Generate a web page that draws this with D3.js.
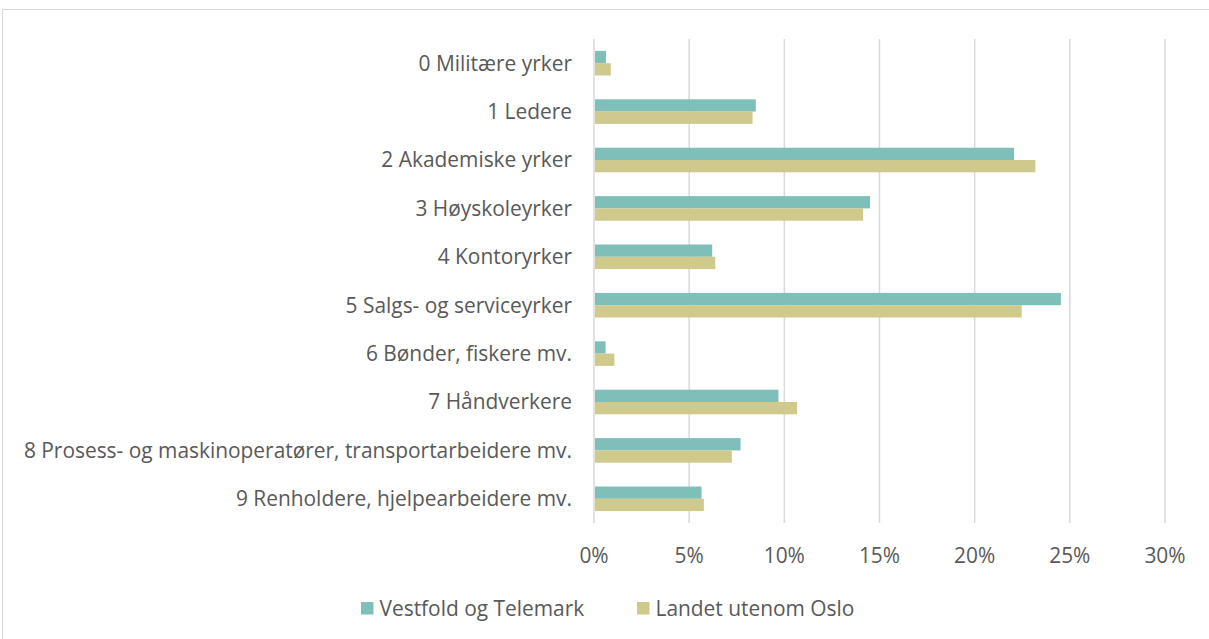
<!DOCTYPE html>
<html lang="no">
<head>
<meta charset="UTF-8">
<title>Yrker</title>
<script src="https://d3js.org/d3.v7.min.js"></script>
<style>
  body { margin: 0; background: #fff; font-family: "Open Sans", "Liberation Sans", sans-serif; }
  text { fill: #595959; }
</style>
</head>
<body>
<div id="chart"></div>
<script>
// data (percent)
const categories = [
  "0 Militære yrker",
  "1 Ledere",
  "2 Akademiske yrker",
  "3 Høyskoleyrker",
  "4 Kontoryrker",
  "5 Salgs- og serviceyrker",
  "6 Bønder, fiskere mv.",
  "7 Håndverkere",
  "8 Prosess- og maskinoperatører, transportarbeidere mv.",
  "9 Renholdere, hjelpearbeidere mv."
];
const seriesNames = ["Vestfold og Telemark", "Landet utenom Oslo"];
const vestfold = [0.63, 8.5, 22.07, 14.5, 6.21, 24.53, 0.61, 9.69, 7.7, 5.65];
const landet   = [0.88, 8.33, 23.19, 14.14, 6.37, 22.47, 1.07, 10.67, 7.24, 5.77];
const xTicks = [0, 5, 10, 15, 20, 25, 30];
const colors = ["#7fbfb9", "#cfc98c"];

const width = 1209, height = 639;
const margin = {left: 594, right: 44, top: 39, bottom: 116};
const fontSize = "20.9px";

const svg = d3.select("#chart").append("svg")
  .attr("width", width).attr("height", height);

// chart border
svg.append("rect")
  .attr("x", 2.5).attr("y", 9.5)
  .attr("width", width).attr("height", height)
  .attr("fill", "none").attr("stroke", "#d9d9d9");

const x = d3.scaleLinear().domain([0, 30]).range([margin.left, width - margin.right]);
const y = d3.scaleBand().domain(categories)
  .range([margin.top, height - margin.bottom]);
const inner = d3.scaleBand().domain([0, 1])
  .range([0, y.bandwidth()]).paddingOuter(0.97);

// gridlines
svg.append("g").selectAll("line").data(xTicks).join("line")
  .attr("x1", d => x(d)).attr("x2", d => x(d))
  .attr("y1", margin.top).attr("y2", height - margin.bottom)
  .attr("stroke", "#d9d9d9").attr("stroke-width", 1.5);

// x tick labels
svg.append("g").selectAll("text").data(xTicks).join("text")
  .attr("x", d => x(d)).attr("y", 563)
  .attr("text-anchor", "middle")
  .style("font-size", fontSize)
  .text(d => d + "%");

// bars
const rows = categories.map((c, i) => ({c, vals: [vestfold[i], landet[i]]}));
const g = svg.append("g").selectAll("g").data(rows).join("g")
  .attr("transform", d => `translate(0,${y(d.c)})`);
g.selectAll("rect").data(d => d.vals).join("rect")
  .attr("x", x(0) + 1)
  .attr("y", (d, i) => inner(i))
  .attr("height", inner.bandwidth())
  .attr("width", d => x(d) - x(0) - 1)
  .attr("fill", (d, i) => colors[i]);

// category labels
svg.append("g").selectAll("text").data(categories).join("text")
  .attr("x", 572)
  .attr("y", d => y(d) + y.bandwidth() / 2)
  .attr("dy", "0.35em")
  .attr("text-anchor", "end")
  .style("font-size", fontSize)
  .text(d => d);

// legend
const legendX = [361, 637];
const lg = svg.append("g").selectAll("g").data(seriesNames).join("g")
  .attr("transform", (d, i) => `translate(${legendX[i]},602)`);
lg.append("rect").attr("width", 12.5).attr("height", 12.5)
  .attr("fill", (d, i) => colors[i]);
lg.append("text").attr("x", 18.5).attr("y", 14)
  .style("font-size", fontSize)
  .text(d => d);
</script>
</body>
</html>
